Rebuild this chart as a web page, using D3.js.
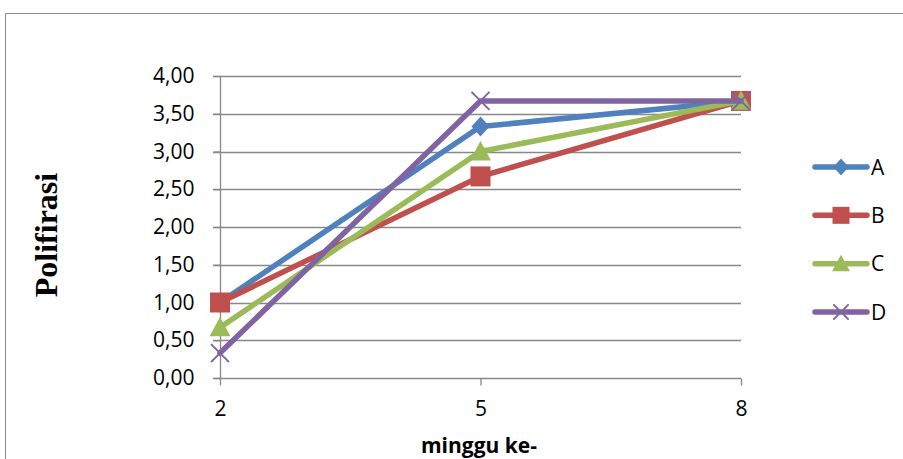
<!DOCTYPE html>
<html>
<head>
<meta charset="utf-8">
<script src="https://cdn.jsdelivr.net/npm/d3@7"></script>
<style>
  html, body { margin: 0; padding: 0; background: #fff; }
  svg { display: block; }
</style>
</head>
<body>
<svg id="chart" width="903" height="459"></svg>
<script>
// Weeks on the x axis
const weeks = [2, 5, 8];
// Series values per week
const seriesA = [1.00, 3.33, 3.67];
const seriesB = [1.00, 2.67, 3.67];
const seriesC = [0.67, 3.00, 3.67];
const seriesD = [0.33, 3.67, 3.67];
const seriesNames = ["A", "B", "C", "D"];
const yTicks = [0, 0.5, 1, 1.5, 2, 2.5, 3, 3.5, 4];

const colors = ["#4F81BD", "#C0504D", "#9BBB59", "#8064A2"];
const shapes = ["diamond", "square", "triangle", "cross"];
const allSeries = [seriesA, seriesB, seriesC, seriesD];

const svg = d3.select("#chart");

// Chart frame
svg.append("rect")
  .attr("x", 5.5).attr("y", 13.5)
  .attr("width", 910).attr("height", 460)
  .attr("fill", "#fff").attr("stroke", "#8c8c8c").attr("stroke-width", 1);

const x = d3.scalePoint().domain(weeks).range([220, 741]);
const y = d3.scaleLinear().domain([0, 4]).range([378, 76]);

const labelFont = "'Open Sans', 'Noto Sans', sans-serif";
const fs = 21;

// Horizontal gridlines
svg.append("g")
  .selectAll("line")
  .data(yTicks.slice(1))
  .join("line")
  .attr("x1", 213).attr("x2", 741)
  .attr("y1", d => Math.round(y(d)) + 0.5).attr("y2", d => Math.round(y(d)) + 0.5)
  .attr("stroke", "#888").attr("stroke-width", 1.3);

// Y axis
const yAxis = d3.axisLeft(y).tickValues(yTicks).tickSize(7).tickPadding(19)
  .tickFormat(d => d3.format(".2f")(d).replace(".", ","));
const gy = svg.append("g").attr("transform", "translate(220.5,0)").call(yAxis);
gy.attr("font-size", null).attr("font-family", null);
gy.select(".domain").attr("stroke", "#888").attr("stroke-width", 1.3).attr("d", "M0,76V378");
gy.selectAll(".tick line").attr("stroke", "#888").attr("stroke-width", 1.3);
gy.selectAll(".tick text").attr("font-family", labelFont).attr("font-size", fs)
  .attr("fill", "#000");

// X axis
const xAxis = d3.axisBottom(x).tickSize(7).tickPadding(16);
const gx = svg.append("g").attr("transform", "translate(0,378.5)").call(xAxis);
gx.attr("font-size", null).attr("font-family", null);
gx.select(".domain").attr("stroke", "#888").attr("stroke-width", 1.3).attr("d", "M213,0H741");
gx.selectAll(".tick line").attr("stroke", "#888").attr("stroke-width", 1.3);
gx.selectAll(".tick text").attr("font-family", labelFont).attr("font-size", fs).attr("fill", "#000");

// Axis titles
svg.append("text")
  .attr("x", 479).attr("y", 453)
  .attr("text-anchor", "middle")
  .attr("font-family", labelFont).attr("font-weight", "bold").attr("font-size", fs)
  .text("minggu ke-");

svg.append("text")
  .attr("transform", "translate(57,235) rotate(-90)")
  .attr("text-anchor", "middle")
  .attr("font-family", "'Liberation Serif', 'DejaVu Serif', serif")
  .attr("font-weight", "bold").attr("font-size", 32)
  .text("Polifirasi");

// Marker drawing helper
function drawMarker(g, shape, color, cx, cy, scale) {
  const s = scale || 1;
  if (shape === "diamond") {
    const r = 10 * s;
    g.append("path")
      .attr("d", `M${cx},${cy - r}L${cx + r * 0.9},${cy}L${cx},${cy + r}L${cx - r * 0.9},${cy}Z`)
      .attr("fill", color);
  } else if (shape === "square") {
    const r = 10 * s;
    g.append("rect").attr("x", cx - r).attr("y", cy - r)
      .attr("width", 2 * r).attr("height", 2 * r).attr("fill", color);
  } else if (shape === "triangle") {
    const r = 10.5 * s;
    g.append("path")
      .attr("d", `M${cx},${cy - r}L${cx + r},${cy + r * 0.85}L${cx - r},${cy + r * 0.85}Z`)
      .attr("fill", color);
  } else if (shape === "cross") {
    const r = 9 * s;
    g.append("path")
      .attr("d", `M${cx - r},${cy - r}L${cx + r},${cy + r}M${cx - r},${cy + r}L${cx + r},${cy - r}`)
      .attr("stroke", color).attr("stroke-width", 2).attr("fill", "none");
  }
}

const line = d3.line().x((d, i) => x(weeks[i])).y(d => y(d));

// Series lines and markers
const plot = svg.append("g");
allSeries.forEach((vals, si) => {
  const g = plot.append("g");
  g.append("path")
    .attr("d", line(vals))
    .attr("fill", "none")
    .attr("stroke", colors[si])
    .attr("stroke-width", 5.5)
    .attr("stroke-linejoin", "round")
    .attr("stroke-linecap", "round");
  vals.forEach((v, i) => drawMarker(g, shapes[si], colors[si], x(weeks[i]), y(v)));
});

// Legend
const legendY = d3.scalePoint().domain(seriesNames).range([167, 312]);
const lg = svg.append("g");
seriesNames.forEach((name, si) => {
  const cy = legendY(name);
  lg.append("line")
    .attr("x1", 815).attr("x2", 867).attr("y1", cy).attr("y2", cy)
    .attr("stroke", colors[si]).attr("stroke-width", 5.5).attr("stroke-linecap", "round");
  drawMarker(lg, shapes[si], colors[si], 841, cy, 0.85);
  lg.append("text")
    .attr("x", 871).attr("y", cy).attr("dy", "0.36em")
    .attr("font-family", labelFont).attr("font-size", fs).attr("fill", "#000")
    .text(name);
});
</script>
</body>
</html>
